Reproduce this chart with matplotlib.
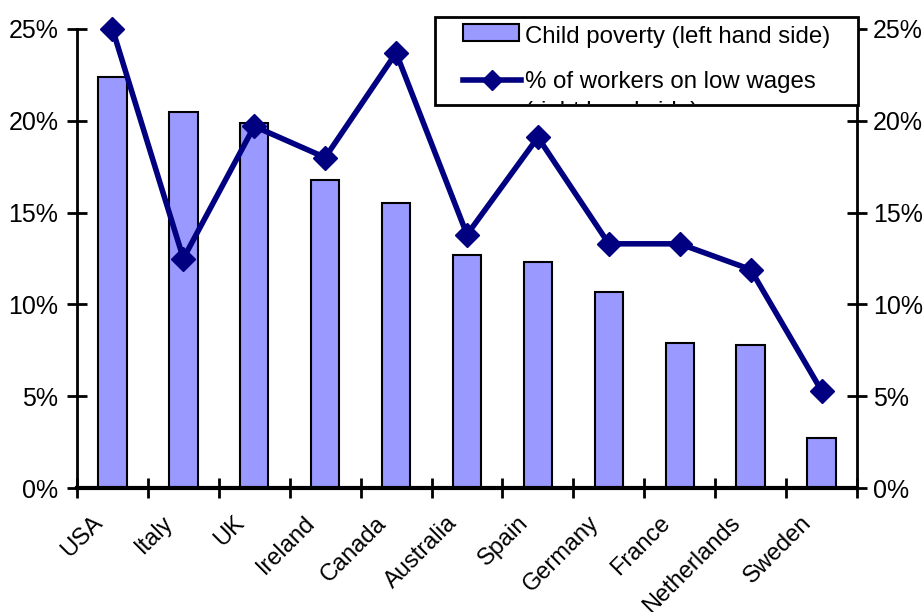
import matplotlib
matplotlib.use('Agg')
import matplotlib.pyplot as plt
import numpy as np
from matplotlib.patches import Rectangle
from matplotlib.lines import Line2D
from matplotlib.ticker import FuncFormatter
from matplotlib.transforms import Bbox, TransformedBbox, ScaledTranslation, blended_transform_factory

countries = ["USA", "Italy", "UK", "Ireland", "Canada", "Australia", "Spain",
             "Germany", "France", "Netherlands", "Sweden"]
child_poverty = [22.4, 20.5, 19.9, 16.8, 15.5, 12.7, 12.3, 10.7, 7.9, 7.8, 2.7]
low_wages = [25.0, 12.5, 19.7, 18.0, 23.7, 13.8, 19.1, 13.3, 13.3, 11.9, 5.3]
yticks = [0, 5, 10, 15, 20, 25]
legend_labels = ["Child poverty (left hand side)",
                 "% of workers on low wages\n(right hand side)"]

plt.rcParams['font.family'] = ['Liberation Sans', 'DejaVu Sans']
W, H = 923, 612
fig = plt.figure(figsize=(W / 100, H / 100), dpi=100)

def fx(px):
    return px / W

def fy(py):
    return 1 - py / H

bar_color = '#9999FF'
line_color = '#000080'
fs_y = 18
fs_x = 17
fs_leg = 17.3

ax = fig.add_axes([fx(77), fy(488), fx(857) - fx(77), fy(29) - fy(488)])
x = np.arange(len(countries))
ax.bar(x, child_poverty, width=0.4, color=bar_color, edgecolor='black', linewidth=1.5, zorder=2)
ax.set_xlim(-0.5, len(countries) - 0.5)
ax.set_ylim(0, 25)
ax.set_yticks(yticks)
pct = FuncFormatter(lambda v, p: f"{v:.0f}%")
ax.yaxis.set_major_formatter(pct)

ax.set_xticks(np.arange(-0.5, len(countries), 1.0))
ax.set_xticklabels([])
ax.tick_params(axis='x', which='major', direction='inout', length=15, width=2)
ax.tick_params(axis='y', direction='inout', length=15, width=2, labelsize=fs_y, pad=6)

# category labels, rotated, anchored left of each category centre
btrans = blended_transform_factory(ax.transData, ax.transAxes)
shift = ScaledTranslation(-21 / 100, -24 / 100, fig.dpi_scale_trans)
for xi, name in zip(x, countries):
    ax.text(xi, 0, name, transform=btrans + shift, rotation=45, ha='right', va='top',
            rotation_mode='anchor', fontsize=fs_x, clip_on=False)

ax.spines['top'].set_visible(False)
ax.spines['right'].set_visible(False)
ax.spines['left'].set_linewidth(2)
ax.spines['bottom'].set_linewidth(3)
ax.spines['bottom'].set_zorder(5)

ax2 = ax.twinx()
ax2.set_ylim(0, 25)
ax2.set_yticks(yticks)
ax2.yaxis.set_major_formatter(pct)
ax2.plot(x, low_wages, color=line_color, lw=4, marker='D', ms=12, clip_on=False, zorder=3)
ax2.tick_params(axis='y', direction='inout', length=15, width=2, labelsize=fs_y, pad=4)
for s in ['top', 'left', 'bottom']:
    ax2.spines[s].set_visible(False)
ax2.spines['right'].set_linewidth(2)

# legend (manual, with clipped text as in reference)
lx0, ly0, lx1, ly1 = 435, 17, 858, 105
frame = Rectangle((fx(lx0), fy(ly1)), fx(lx1) - fx(lx0), fy(ly0) - fy(ly1),
                  transform=fig.transFigure, facecolor='white', edgecolor='black',
                  linewidth=2, zorder=10)
fig.add_artist(frame)
hp = Rectangle((fx(463), fy(41)), fx(519) - fx(463), fy(24) - fy(41),
               transform=fig.transFigure, facecolor=bar_color, edgecolor='black',
               linewidth=1.5, zorder=11)
fig.add_artist(hp)
hl = Line2D([fx(463), fx(521)], [fy(80), fy(80)], transform=fig.transFigure,
            color=line_color, lw=4, zorder=11)
fig.add_artist(hl)
hm = Line2D([fx(492)], [fy(80)], transform=fig.transFigure, color=line_color,
            marker='D', ms=10, zorder=12)
fig.add_artist(hm)
clip = TransformedBbox(Bbox([[fx(lx0), fy(ly1 - 1)], [fx(lx1), fy(ly0)]]), fig.transFigure)
lines2 = legend_labels[1].split('\n')
texts = [fig.text(fx(525), fy(43), legend_labels[0], fontsize=fs_leg, ha='left', va='baseline', zorder=12),
         fig.text(fx(525), fy(88), lines2[0], fontsize=fs_leg, ha='left', va='baseline', zorder=12),
         fig.text(fx(525), fy(118), lines2[1], fontsize=fs_leg, ha='left', va='baseline', zorder=12)]
for t in texts:
    t.set_clip_box(clip)
    t.set_clip_on(True)

fig.savefig('out.png', dpi=100)
